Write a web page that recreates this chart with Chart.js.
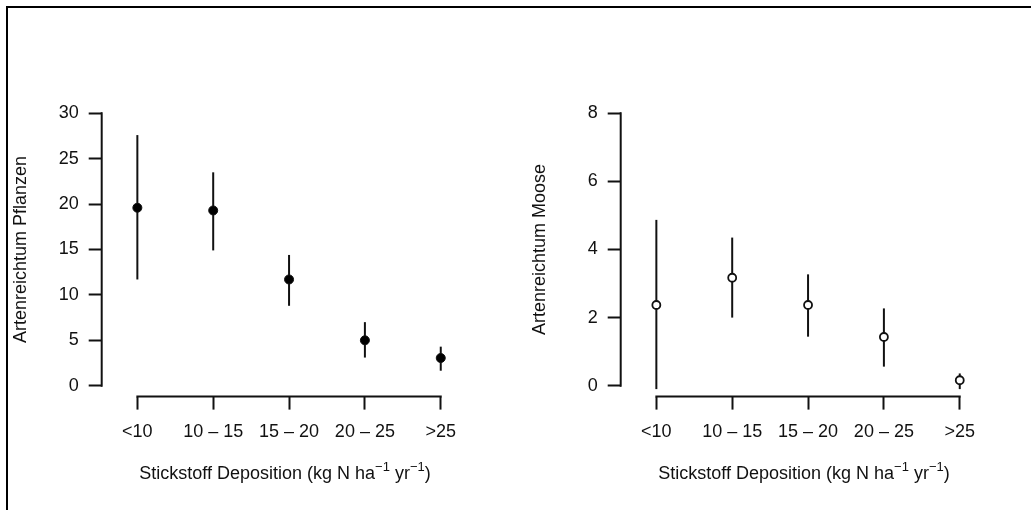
<!DOCTYPE html>
<html>
<head>
<meta charset="utf-8">
<script src="https://cdn.jsdelivr.net/npm/chart.js@4.4.1/dist/chart.umd.min.js"></script>
<style>
  html, body { margin: 0; padding: 0; background: #fff; overflow: hidden; }
  #wrap { position: relative; width: 1031px; height: 510px; }
  #frame { position: absolute; left: 6px; top: 6px; width: 1100px; height: 600px;
           border-top: 2px solid #000; border-left: 2px solid #000; }
  canvas { position: absolute; top: 0; }
  #c1 { left: 0px; }
  #c2 { left: 519px; }
</style>
</head>
<body>
<div id="wrap">
  <div id="frame"></div>
  <canvas id="c1" width="512" height="510"></canvas>
  <canvas id="c2" width="512" height="510"></canvas>
</div>
<script>
// ---- data ----
const categories = ['<10', '10 – 15', '15 – 20', '20 – 25', '>25'];

const plantMean = [19.6, 19.3, 11.7, 5.0, 3.05];
const plantLow  = [11.7, 14.9, 8.8, 3.1, 1.65];
const plantHigh = [27.6, 23.5, 14.4, 7.0, 4.3];
const plantTicks = [0, 5, 10, 15, 20, 25, 30];

const mossMean = [2.37, 3.17, 2.37, 1.43, 0.16];
const mossLow  = [-0.1, 2.0, 1.44, 0.56, -0.1];
const mossHigh = [4.87, 4.35, 3.27, 2.27, 0.36];
const mossTicks = [0, 2, 4, 6, 8];

const xTitleMain = ['Stickstoff Deposition (kg N ha', ' yr', ')'];
const xTitleSup = '−1';

// ---- styling ----
const FONT = "'Liberation Sans', Arial, Helvetica, sans-serif";
const INK = '#111';
Chart.defaults.font.family = FONT;
Chart.defaults.font.size = 18;
Chart.defaults.color = INK;

const errorBarPlugin = {
  id: 'errorBars',
  beforeDatasetsDraw(chart, args, opts) {
    const ctx = chart.ctx, xs = chart.scales.x, ys = chart.scales.y;
    ctx.save();
    ctx.strokeStyle = INK;
    ctx.lineWidth = 2;
    opts.low.forEach((lo, i) => {
      const px = xs.getPixelForValue(i + 1);
      ctx.beginPath();
      ctx.moveTo(px, ys.getPixelForValue(lo));
      ctx.lineTo(px, ys.getPixelForValue(opts.high[i]));
      ctx.stroke();
    });
    ctx.restore();
  }
};

const axesPlugin = {
  id: 'rAxes',
  afterDraw(chart, args, opts) {
    const ctx = chart.ctx, xs = chart.scales.x, ys = chart.scales.y;
    const a = chart.chartArea;
    ctx.save();
    ctx.strokeStyle = INK;
    ctx.lineWidth = 2;
    ctx.lineCap = 'butt';
    // y axis line from first to last tick
    const yt = opts.yTicks;
    ctx.beginPath();
    ctx.moveTo(a.left, ys.getPixelForValue(yt[0]) + 1);
    ctx.lineTo(a.left, ys.getPixelForValue(yt[yt.length - 1]) - 1);
    ctx.stroke();
    // x axis line from first to last category
    ctx.beginPath();
    ctx.moveTo(xs.getPixelForValue(1) - 1, a.bottom);
    ctx.lineTo(xs.getPixelForValue(categories.length) + 1, a.bottom);
    ctx.stroke();

    // x title with superscripts
    const big = '18px ' + FONT, small = '13px ' + FONT;
    const parts = [
      [xTitleMain[0], big, 0], [xTitleSup, small, -8],
      [xTitleMain[1], big, 0], [xTitleSup, small, -8],
      [xTitleMain[2], big, 0]
    ];
    let total = 0;
    parts.forEach(p => { ctx.font = p[1]; p.push(ctx.measureText(p[0]).width); total += p[3]; });
    const cx = (xs.getPixelForValue(1) + xs.getPixelForValue(categories.length)) / 2 - 4;
    let x = cx - total / 2;
    const baseY = a.bottom + 82;
    ctx.fillStyle = INK;
    ctx.textBaseline = 'alphabetic';
    ctx.textAlign = 'left';
    parts.forEach(p => { ctx.font = p[1]; ctx.fillText(p[0], x, baseY + p[2]); x += p[3]; });
    ctx.restore();
  }
};

function makeChart(id, means, lows, highs, ticks, yMin, yMax, yTitle, filled) {
  return new Chart(document.getElementById(id), {
    type: 'scatter',
    data: {
      datasets: [{
        data: means.map((v, i) => ({ x: i + 1, y: v })),
        pointRadius: filled ? 4.5 : 4,
        pointHoverRadius: filled ? 4.5 : 4,
        pointBackgroundColor: filled ? '#000' : '#fff',
        pointBorderColor: '#111',
        pointBorderWidth: filled ? 1 : 1.8,
        showLine: false
      }]
    },
    options: {
      responsive: false,
      animation: false,
      events: [],
      layout: { padding: { left: 0, top: 102.4, right: 35.6, bottom: 0 } },
      plugins: {
        legend: { display: false },
        tooltip: { enabled: false },
        errorBars: { low: lows, high: highs },
        rAxes: { yTicks: ticks }
      },
      scales: {
        x: {
          type: 'linear',
          min: 0.53, max: 5.47,
          afterBuildTicks: s => { s.ticks = categories.map((c, i) => ({ value: i + 1 })); },
          afterFit: s => { s.height = 113.4; },
          ticks: {
            autoSkip: false, maxRotation: 0, padding: 11.6,
            callback: v => categories[v - 1]
          },
          grid: { drawOnChartArea: false, drawTicks: true, tickLength: 13, tickWidth: 2, tickColor: INK },
          border: { display: false }
        },
        y: {
          min: yMin, max: yMax,
          afterBuildTicks: s => { s.ticks = ticks.map(v => ({ value: v })); },
          afterFit: s => { s.width = 101.7; },
          ticks: { padding: 10, callback: v => String(v) },
          grid: { drawOnChartArea: false, drawTicks: true, tickLength: 13, tickWidth: 2, tickColor: INK },
          border: { display: false },
          title: { display: true, text: yTitle, padding: { top: 9.9, bottom: 0 }, font: { size: 18 } }
        }
      }
    },
    plugins: [errorBarPlugin, axesPlugin]
  });
}

makeChart('c1', plantMean, plantLow, plantHigh, plantTicks, -1.2, 31.2, 'Artenreichtum Pflanzen', true);
makeChart('c2', mossMean, mossLow, mossHigh, mossTicks, -0.32, 8.32, 'Artenreichtum Moose', false);
</script>
</body>
</html>
